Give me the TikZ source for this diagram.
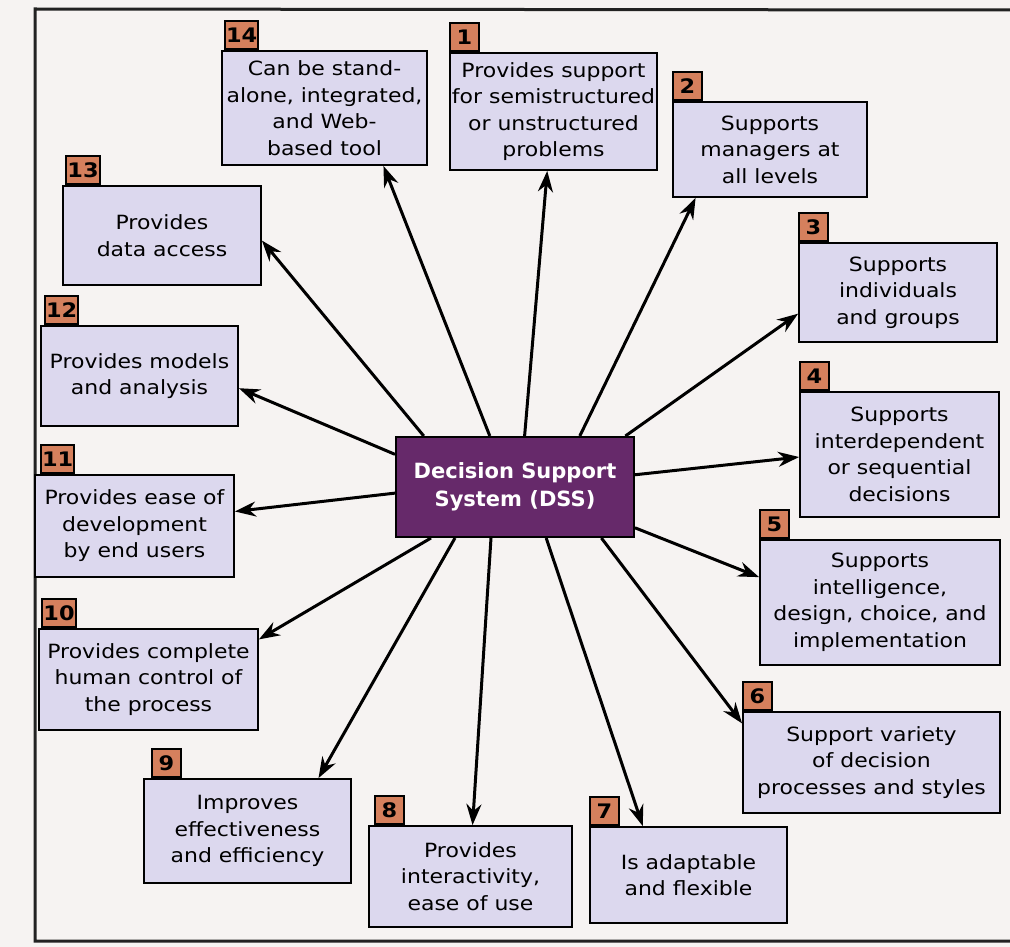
\documentclass[tikz,border=0pt]{standalone}
\usepackage{fontspec}
\setmainfont{DejaVu Sans}[FakeStretch=1.12]
\newfontfamily\corefont{DejaVu Sans}
\usetikzlibrary{arrows.meta,calc}

\definecolor{pagebg}{HTML}{F6F3F2}
\definecolor{boxfill}{HTML}{DCD8EE}
\definecolor{tagfill}{HTML}{D5805D}
\definecolor{dsspurple}{HTML}{66296A}
\definecolor{framegray}{HTML}{222222}

\begin{document}
\begin{tikzpicture}[x=1pt,y=-1pt,
  feat/.style={draw=black, line width=1.8pt, fill=boxfill, align=center,
    inner sep=2pt, font=\fontsize{19.6}{26.5}\selectfont},
  tagbox/.style={draw=black, line width=1.8pt, fill=tagfill, anchor=south west,
    inner sep=1pt, minimum height=28pt, minimum width=29pt,
    font=\bfseries\fontsize{20}{20}\selectfont},
  core/.style={draw=black, line width=2pt, fill=dsspurple, text=white,
    align=center, font=\corefont\bfseries\fontsize{21}{28}\selectfont},
  arr/.style={line width=3pt, -{Stealth[length=21pt,width=15pt]}},
  frame/.style={line width=3pt, draw=framegray}]

% page and bounding box
\fill[pagebg] (0,0) rectangle (1010,947);
\useasboundingbox (0,0) rectangle (1010,947);

% page frame
\draw[frame] (1010,10) -- (35,9) -- (35,941) -- (1010,941);

% central concept
\node[core, minimum width=238pt, minimum height=100pt] (dss) at (515,487)
  {Decision Support\\System (DSS)};

% characteristic boxes
\node[feat, minimum width=207pt, minimum height=117pt] (b1) at (553.5,111.5)
  {Provides support\\for semistructured\\or unstructured\\problems};
\node[feat, minimum width=194pt, minimum height=95pt] (b2) at (770,149.5)
  {Supports\\managers at\\all levels};
\node[feat, minimum width=198pt, minimum height=99pt] (b3) at (898,292.5)
  {Supports\\individuals\\and groups};
\node[feat, minimum width=199pt, minimum height=125pt] (b4) at (899.5,454.5)
  {Supports\\interdependent\\or sequential\\decisions};
\node[feat, minimum width=240pt, minimum height=125pt] (b5) at (880,602.5)
  {Supports\\intelligence,\\design, choice, and\\implementation};
\node[feat, minimum width=257pt, minimum height=101pt] (b6) at (871.5,762.5)
  {Support variety\\of decision\\processes and styles};
\node[feat, minimum width=197pt, minimum height=96pt] (b7) at (688.5,875)
  {Is adaptable\\and flexible};
\node[feat, minimum width=203pt, minimum height=101pt] (b8) at (470.5,876.5)
  {Provides\\interactivity,\\ease of use};
\node[feat, minimum width=207pt, minimum height=104pt] (b9) at (247.5,831)
  {Improves\\effectiveness\\and efficiency};
\node[feat, minimum width=219pt, minimum height=101pt] (b10) at (148.5,679.5)
  {Provides complete\\human control of\\the process};
\node[feat, minimum width=199pt, minimum height=102pt] (b11) at (134.5,526)
  {Provides ease of\\development\\by end users};
\node[feat, minimum width=197pt, minimum height=100pt] (b12) at (139.5,376)
  {Provides models\\and analysis};
\node[feat, minimum width=198pt, minimum height=99pt] (b13) at (162,235.5)
  {Provides\\data access};
\node[feat, minimum width=205pt, minimum height=114pt] (b14) at (324.5,108)
  {Can be stand-\\alone, integrated,\\and Web-\\based tool};

% number tags
\node[tagbox] (t1) at (b1.north west) {1};
\node[tagbox] (t2) at (b2.north west) {2};
\node[tagbox] (t3) at (b3.north west) {3};
\node[tagbox] (t4) at (b4.north west) {4};
\node[tagbox] (t5) at (b5.north west) {5};
\node[tagbox] (t6) at (b6.north west) {6};
\node[tagbox] (t7) at (b7.north west) {7};
\node[tagbox] (t8) at ([xshift=6pt]b8.north west) {8};
\node[tagbox] (t9) at ([xshift=8pt]b9.north west) {9};
\node[tagbox, minimum width=34pt] (t10) at ([xshift=3pt]b10.north west) {10};
\node[tagbox, minimum width=30pt] (t11) at ([xshift=6pt]b11.north west) {11};
\node[tagbox, minimum width=32pt] (t12) at ([xshift=4pt]b12.north west) {12};
\node[tagbox, minimum width=34pt] (t13) at ([xshift=3pt]b13.north west) {13};
\node[tagbox, minimum width=32pt] (t14) at ([xshift=3pt]b14.north west) {14};

% connectors from the central concept
\draw[arr] ($(dss.north west)!0.54!(dss.north east)$) -- ($(b1.south west)!0.47!(b1.south east)$);
\draw[arr] ($(dss.north west)!0.77!(dss.north east)$) -- ($(b2.south west)!0.12!(b2.south east)$);
\draw[arr] ($(dss.north west)!0.96!(dss.north east)$) -- ($(b3.north west)!0.71!(b3.south west)$);
\draw[arr] ($(dss.north east)!0.38!(dss.south east)$) -- ($(b4.north west)!0.52!(b4.south west)$);
\draw[arr] ($(dss.north east)!0.90!(dss.south east)$) -- ($(b5.north west)!0.30!(b5.south west)$);
\draw[arr] ($(dss.south west)!0.86!(dss.south east)$) -- ($(b6.north west)!0.12!(b6.south west)$);
\draw[arr] ($(dss.south west)!0.63!(dss.south east)$) -- ($(b7.north west)!0.27!(b7.north east)$);
\draw[arr] ($(dss.south west)!0.40!(dss.south east)$) -- ($(b8.north west)!0.51!(b8.north east)$);
\draw[arr] ($(dss.south west)!0.25!(dss.south east)$) -- ($(b9.north west)!0.84!(b9.north east)$);
\draw[arr] ($(dss.south west)!0.15!(dss.south east)$) -- ($(b10.north east)!0.11!(b10.south east)$);
\draw[arr] ($(dss.north west)!0.56!(dss.south west)$) -- ($(b11.north east)!0.36!(b11.south east)$);
\draw[arr] ($(dss.north west)!0.18!(dss.south west)$) -- ($(b12.north east)!0.62!(b12.south east)$);
\draw[arr] ($(dss.north west)!0.12!(dss.north east)$) -- ($(b13.north east)!0.55!(b13.south east)$);
\draw[arr] ($(dss.north west)!0.395!(dss.north east)$) -- ($(b14.south west)!0.785!(b14.south east)$);

\end{tikzpicture}
\end{document}
